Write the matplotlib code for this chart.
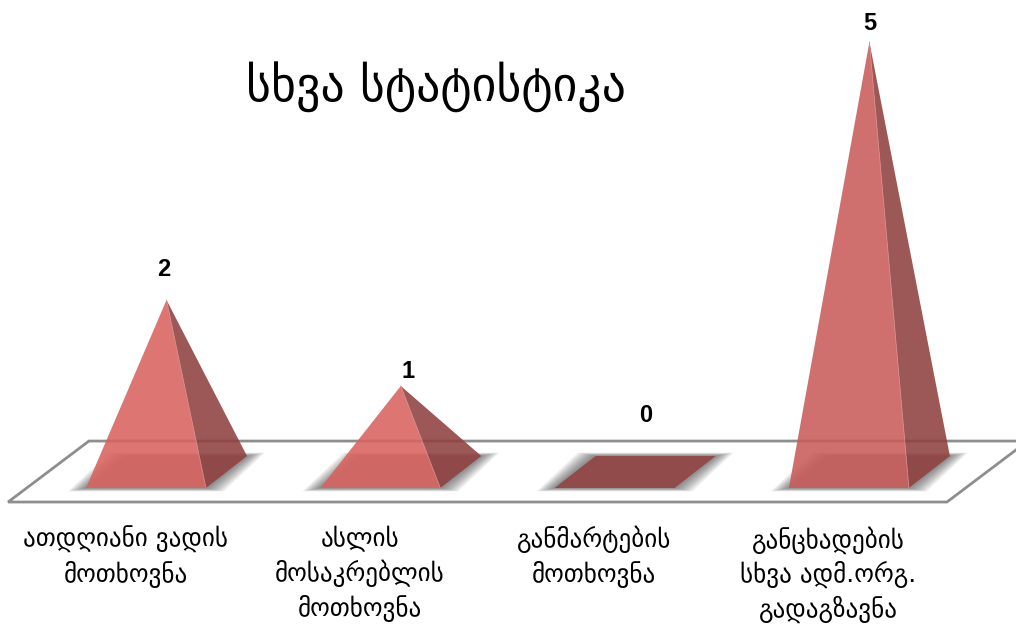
import matplotlib
matplotlib.use("Agg")
import matplotlib.pyplot as plt
from matplotlib.patches import Polygon

# data
categories = ["ათდღიანი ვადის\nმოთხოვნა", "ასლის\nმოსაკრებლის\nმოთხოვნა",
              "განმარტების\nმოთხოვნა", "განცხადების\nსხვა ადმ.ორგ.\nგადაგზავნა"]
values = [2, 1, 0, 5]
title = "სხვა სტატისტიკა"

# pixel offsets of the value labels from the apex
label_dx = [-3, 7, 11, 0]
label_dy = [32, 16, 58, 20]
front_colors = ["#d9625f", "#d9625f", "#d9625f", "#c95c5a"]

# size of one category / one count in pixels
unit_x = 234.3
unit_y = 86.0
half_w = 60 / unit_x
depth_x = 41 / unit_x
depth_y = 32 / unit_y

fig = plt.figure(figsize=(10.16, 6.28), dpi=100)
ax = fig.add_axes([0, 0, 1, 1])
ax.set_xlim(-166.5 / unit_x, (1016 - 166.5) / unit_x)
ax.set_ylim(-(628 - 472) / unit_y, 472 / unit_y)
ax.axis("off")

# floor
floor = [(-0.676, -0.349), (3.331, -0.349), (3.676, 0.36), (-0.331, 0.36)]
ax.add_patch(Polygon(floor, closed=True, facecolor="white", edgecolor="#8e8e8e",
                     linewidth=2.0, joinstyle="miter", zorder=1))

for i, v in enumerate(values):
    fl = (i - half_w - depth_x / 2, -depth_y / 2)
    fr = (i + half_w - depth_x / 2, -depth_y / 2)
    br = (i + half_w + depth_x / 2, depth_y / 2)
    bl = (i - half_w + depth_x / 2, depth_y / 2)
    apex = (i, v)

    # soft shadow under the base
    for k in range(12):
        grow = (12 - k) * 1.5 / unit_x
        rise = (12 - k) * 0.28 / unit_y
        shadow = [(fl[0] - grow, fl[1] - rise), (fr[0] + grow, fr[1] - rise),
                  (br[0] + grow, br[1] + rise), (bl[0] - grow, bl[1] + rise)]
        ax.add_patch(Polygon(shadow, closed=True, facecolor="#303030", edgecolor="none",
                             alpha=0.06, zorder=2))

    if v == 0:
        ax.add_patch(Polygon([fl, fr, br, bl], closed=True, facecolor="#914b4a",
                             edgecolor="none", zorder=3))
    else:
        ax.add_patch(Polygon([fl, fr, apex], closed=True, facecolor=front_colors[i],
                             edgecolor="none", alpha=0.88, zorder=3))
        ax.add_patch(Polygon([fr, br, apex], closed=True, facecolor="#8f4040",
                             edgecolor="none", alpha=0.88, zorder=3))
        ax.plot([fr[0], apex[0]], [fr[1], apex[1]], color="#d98a88", lw=0.6, zorder=4)

    ax.annotate(str(v), (i, v), xytext=(label_dx[i], label_dy[i] - 1), textcoords="offset pixels",
                ha="center", va="center", fontsize=17, fontweight="bold",
                family="Liberation Sans", color="black", zorder=5)
    ax.annotate(categories[i], (i, -depth_y / 2), xytext=(-41, -38), textcoords="offset pixels",
                ha="center", va="top", fontsize=18, linespacing=1.36,
                family="DejaVu Sans", color="black", zorder=5)

fig.text(436 / 1016, 1 - 87 / 628, title, ha="center", va="center", fontsize=34.4,
         family="DejaVu Sans", color="black")

fig.savefig("out.png", dpi=100)
